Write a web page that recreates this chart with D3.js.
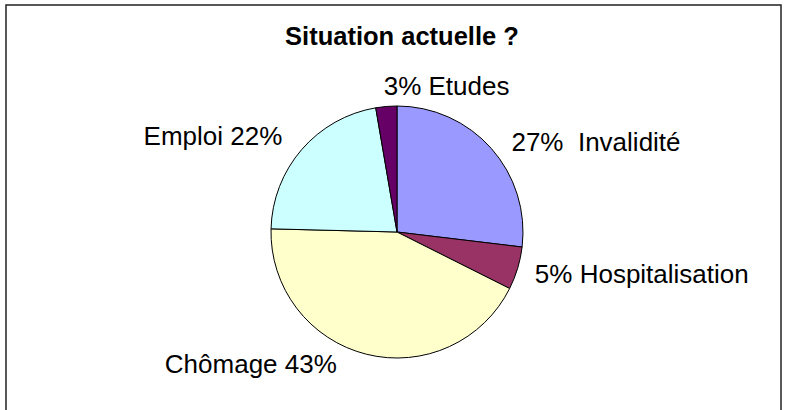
<!DOCTYPE html>
<html>
<head>
<meta charset="utf-8">
<script src="https://cdn.jsdelivr.net/npm/d3@7"></script>
<style>
	body { margin: 0; background: #fff; }
	text { font-family: "Liberation Sans", Arial, sans-serif; }
</style>
</head>
<body>
<div id="my_dataviz"></div>
<script>
// data (clockwise from 12 o'clock)
var categories = ["Invalidité", "Hospitalisation", "Chômage", "Emploi", "Etudes"];
var values = [26.9, 5.5, 43.0, 21.9, 2.7];
var labels = ["27%  Invalidité", "5% Hospitalisation", "Chômage 43%", "Emploi 22%", "3% Etudes"];
var colors = ["#9999FF", "#993366", "#FFFFCC", "#CCFFFF", "#660066"];
var title = "Situation actuelle ?";

var width = 789, height = 410;
var cx = 397, cy = 232, radius = 126;

// small nudges to mimic the spreadsheet label placement
var labelNudge = {
	"Invalidité": [6, 6],
	"Hospitalisation": [-1, 0],
	"Chômage": [-25, -9],
	"Emploi": [-5, -1],
	"Etudes": [-1, -2]
};

var svg = d3.select("#my_dataviz")
	.append("svg")
		.attr("width", width)
		.attr("height", height);

// chart frame
svg.append("rect")
	.attr("x", 6)
	.attr("y", 5)
	.attr("width", 775)
	.attr("height", 430)
	.attr("fill", "none")
	.attr("stroke", "#222")
	.attr("stroke-width", 1.5);

svg.append("text")
	.attr("x", 402)
	.attr("y", 45)
	.attr("text-anchor", "middle")
	.style("font-size", "25.5px")
	.style("font-weight", "bold")
	.text(title);

var data = categories.map(function(c, i) {
	return {name: c, value: values[i], label: labels[i]};
});

var color = d3.scaleOrdinal()
	.domain(categories)
	.range(colors);

var pie = d3.pie()
	.sort(null)
	.value(function(d) { return d.value; });

var arc = d3.arc()
	.innerRadius(0)
	.outerRadius(radius);

var labelArc = d3.arc()
	.innerRadius(145)
	.outerRadius(145);

var g = svg.append("g")
	.attr("transform", "translate(" + cx + "," + cy + ")");

var slices = pie(data);

g.selectAll("path")
	.data(slices)
	.enter()
	.append("path")
	.attr("d", arc)
	.attr("fill", function(d) { return color(d.data.name); })
	.attr("stroke", "#000")
	.attr("stroke-width", 1);

g.selectAll("text.lbl")
	.data(slices)
	.enter()
	.append("text")
	.attr("class", "lbl")
	.attr("x", function(d) { return labelArc.centroid(d)[0] + labelNudge[d.data.name][0]; })
	.attr("y", function(d) { return labelArc.centroid(d)[1] + labelNudge[d.data.name][1]; })
	.attr("dy", "0.35em")
	.attr("text-anchor", function(d) {
		var mid = (d.startAngle + d.endAngle) / 2;
		return mid < Math.PI ? "start" : (mid > 1.9 * Math.PI ? "start" : "end");
	})
	.style("font-size", "26px")
	.style("white-space", "pre")
	.text(function(d) { return d.data.label; });
</script>
</body>
</html>
